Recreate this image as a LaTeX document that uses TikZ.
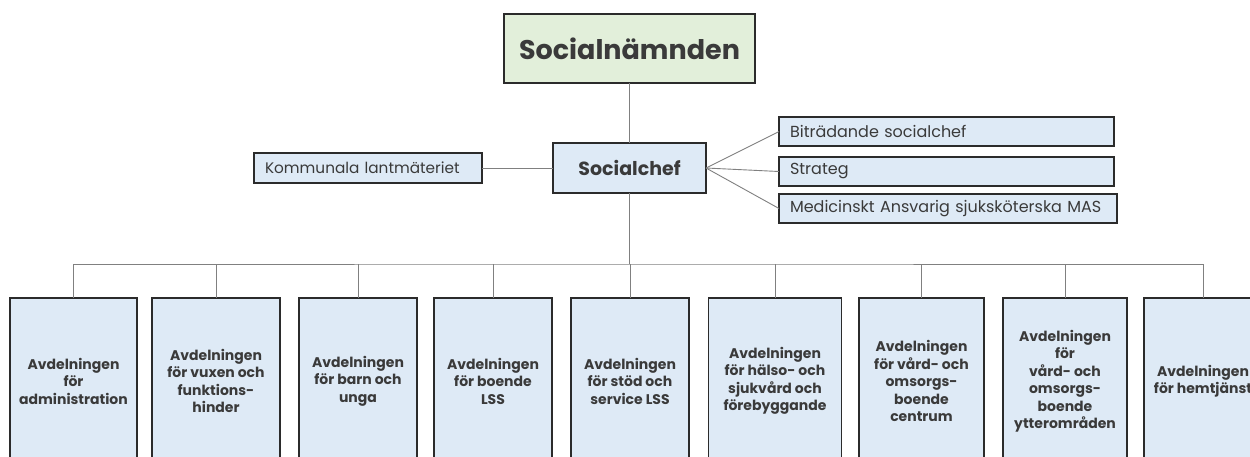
\documentclass[tikz,border=0pt]{standalone}
\usepackage{fontspec}
\setmainfont{Poppins}
\definecolor{boxblue}{HTML}{DEEAF6}
\definecolor{boxgreen}{HTML}{E2EFDA}
\definecolor{edge}{HTML}{2B2B2B}
\definecolor{txt}{HTML}{3A3A3A}
\definecolor{conn}{HTML}{808080}
\begin{document}
\begin{tikzpicture}[x=1pt,y=-1pt,
  box/.style={draw=edge,line width=1.4pt,fill=boxblue,text=txt,inner sep=0pt,outer sep=0pt},
  sidebox/.style={box,anchor=west,minimum height=29pt,font=\fontsize{16}{18}\selectfont,align=left},
  deptbox/.style={box,minimum height=166pt,align=center,font=\bfseries\fontsize{14}{17.5}\selectfont},
  link/.style={draw=conn,line width=0.9pt}]
\useasboundingbox (0,0) rectangle (1250,456);
\clip (0,0) rectangle (1250,456);
\fill[white] (0,0) rectangle (1250,456);
% top
\node[box,fill=boxgreen,minimum width=251pt,minimum height=69pt,font=\bfseries\fontsize{27}{32}\selectfont] (sn) at (629.5,48.5) {Socialnämnden};
\node[box,minimum width=153pt,minimum height=50pt,font=\bfseries\fontsize{19}{22}\selectfont] (sc) at (629.5,168) {Socialchef};
\node[box,minimum width=228pt,minimum height=30pt,text width=206pt,align=left,font=\fontsize{15.3}{17}\selectfont] (kl) at (368,168) {Kommunala lantmäteriet};
\node[sidebox,minimum width=335pt,text width=313pt] (bs) at (779,131.5) {Biträdande socialchef};
\node[sidebox,minimum width=335pt,text width=313pt] (st) at (779,171.5) {Strateg};
\node[sidebox,minimum width=338pt,text width=316pt] (mas) at (779,208.5) {Medicinskt Ansvarig sjuksköterska MAS};
\draw[link] (sn.south) -- (sc.north);
\draw[link] (kl.east) -- (sc.west);
\draw[link] (sc.east) -- (bs.west);
\draw[link] (sc.east) -- (st.west);
\draw[link] (sc.east) -- (mas.west);
% departments
\node[deptbox,minimum width=127pt] (d1) at (73.5,381) {Avdelningen\\för\\administration};
\node[deptbox,minimum width=128pt] (d2) at (216,381) {Avdelningen\\för vuxen och\\funktions-\\hinder};
\node[deptbox,minimum width=118pt] (d3) at (358,381) {Avdelningen\\för barn och\\unga};
\node[deptbox,minimum width=118pt] (d4) at (493,381) {Avdelningen\\för boende\\LSS};
\node[deptbox,minimum width=118pt] (d5) at (630,381) {Avdelningen\\för stöd och\\service LSS};
\node[deptbox,minimum width=133pt] (d6) at (775,381) {Avdelningen\\för hälso- och\\sjukvård och\\förebyggande};
\node[deptbox,minimum width=125pt] (d7) at (921.5,381) {Avdelningen\\för vård- och\\omsorgs-\\boende\\centrum};
\node[deptbox,minimum width=124pt] (d8) at (1065,381) {Avdelningen\\för\\vård- och\\omsorgs-\\boende\\ytterområden};
\node[deptbox,minimum width=118pt] (d9) at (1203,381) {Avdelningen\\för hemtjänst};
\coordinate (bus) at (629.5,264);
\draw[link] (sc.south) -- (bus);
\draw[link] (d1.north) |- (bus) -| (d9.north);
\foreach \d in {d2,d3,d4,d5,d6,d7,d8}{\draw[link] (\d.north) -- (\d.north |- bus);}
\end{tikzpicture}
\end{document}
